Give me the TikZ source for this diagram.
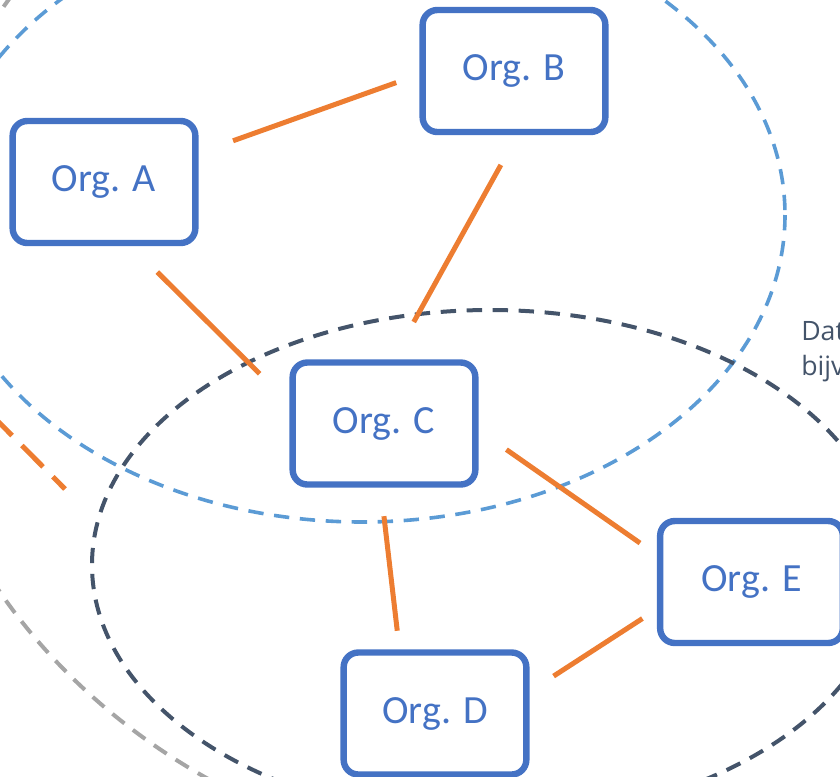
\documentclass[tikz,border=0pt]{standalone}
\usepackage{fontspec}
\setmainfont{Carlito}
\newfontfamily\notefont{Open Sans}
\definecolor{orgblue}{HTML}{4472C4}
\definecolor{lineorange}{HTML}{ED7D31}
\definecolor{ringblue}{HTML}{5B9BD5}
\definecolor{ringnavy}{HTML}{44546A}
\definecolor{ringgray}{HTML}{A5A5A5}
\begin{document}
\begin{tikzpicture}[x=0.75pt,y=-0.75pt]
        \tikzstyle{org}=[rectangle, rounded corners=11pt, draw=orgblue, fill=white, line width=4.8pt, minimum width=137pt, minimum height=91.5pt, inner sep=0pt, font=\fontsize{30}{36}\selectfont, text=orgblue]
        \tikzstyle{edge}=[lineorange, line width=3.75pt]
        \tikzstyle{ring}=[line width=3pt, dash pattern=on 11.5pt off 8pt]

        \path[use as bounding box, clip] (0,0) rectangle (840,776);

        % groups
        \draw[ring, ringgray] (562,302) ellipse [x radius=654, y radius=567];
        \draw[ring, ringblue, line width=2.7pt] (362,215) ellipse [x radius=423, y radius=307];
        \draw[ring, ringnavy] (490,565) ellipse [x radius=398, y radius=255];

        \node[anchor=base west, align=left, inner sep=0pt, text=ringnavy, font=\notefont\fontsize{20}{26}\selectfont] (note) at (801,375) {Dat\\bijv};

        \node[org] (a) at (104,182)    {Org. A};
        \node[org] (b) at (514,71)     {Org. B};
        \node[org] (c) at (384,423.5)  {Org. C};
        \node[org] (d) at (435,713.5)  {Org. D};
        \node[org] (e) at (751.5,582)  {Org. E};

        \draw[edge, shorten <=27.5pt, shorten >=18.5pt] (a.17.4)  -- (b.182.6);
        \draw[edge, shorten <=25.5pt, shorten >=32pt]   (b.273.8) -- (c.82.4);
        \draw[edge, shorten <=27.5pt, shorten >=31.5pt] (a.293.3) -- (c.168.8);
        \draw[edge, shorten <=25.5pt, shorten >=15.5pt] (c.356.2) -- (e.164.6);
        \draw[edge, shorten <=21.5pt, shorten >=14pt]   (c.267.6) -- (d.119.5);
        \draw[edge, shorten <=13pt, shorten >=21.5pt]   (e.196.8) -- (d.13.1);

        \coordinate (out) at (-40,383);
        \coordinate (cut) at (65,489);
        \draw[edge, dash pattern=on 22.5pt off 10.5pt] (out) -- (cut);
\end{tikzpicture}
\end{document}
